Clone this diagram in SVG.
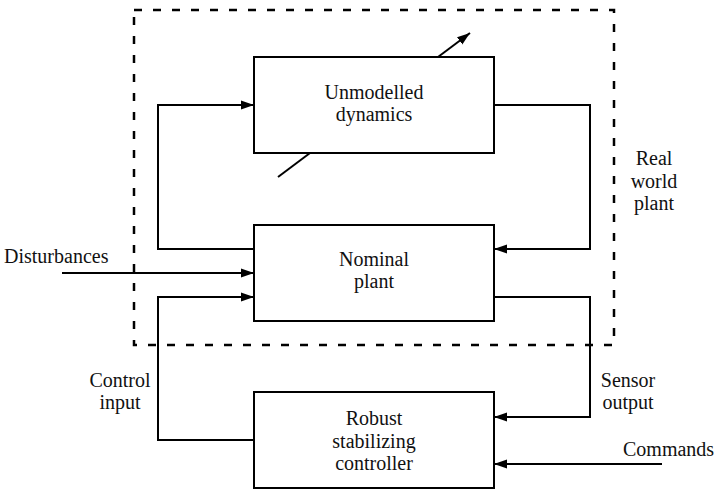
<svg xmlns="http://www.w3.org/2000/svg" width="728" height="490" viewBox="0 0 728 490">
  <style>
    .box { fill: #fff; stroke: #000; stroke-width: 2; }
    .wire { fill: none; stroke: #000; stroke-width: 2; }
    .frame { fill: none; stroke: #000; stroke-width: 2.5; stroke-dasharray: 8 11; }
    .t { font-family: 'Liberation Serif', 'Times New Roman', serif; font-size: 20px; fill: #111; }
    .c { text-anchor: middle; }
  </style>
  <defs>
    <marker id="arrow" markerUnits="userSpaceOnUse" markerWidth="14" markerHeight="10" refX="13" refY="5" orient="auto">
      <path d="M0,0.5 L13,5 L0,9.5 z" fill="#000"/>
    </marker>
  </defs>

  <!-- boundary of the real world plant -->
  <g id="real-world-plant">
    <rect class="frame" x="134" y="10" width="480" height="335"/>
    <text class="t c" x="654" y="165">Real</text>
    <text class="t c" x="654" y="187.5">world</text>
    <text class="t c" x="654" y="210">plant</text>
  </g>

  <g id="connectors">
    <!-- uncertainty arrow drawn across the unmodelled block -->
    <line class="wire" x1="278" y1="177" x2="470" y2="33" marker-end="url(#arrow)"/>
    <polyline class="wire" points="254,249 158,249 158,105 254,105" marker-end="url(#arrow)"/>
    <polyline class="wire" points="494,105 590,105 590,249 494,249" marker-end="url(#arrow)"/>
    <line class="wire" x1="62" y1="273" x2="254" y2="273" marker-end="url(#arrow)"/>
    <polyline class="wire" points="254,440 158,440 158,297 254,297" marker-end="url(#arrow)"/>
    <polyline class="wire" points="494,297 590,297 590,417 494,417" marker-end="url(#arrow)"/>
    <line class="wire" x1="662" y1="464" x2="494" y2="464" marker-end="url(#arrow)"/>
  </g>

  <g id="unmodelled-dynamics">
    <rect class="box" x="254" y="57" width="240" height="96"/>
    <text class="t c" x="374" y="98.5">Unmodelled</text>
    <text class="t c" x="374" y="121">dynamics</text>
  </g>

  <g id="nominal-plant">
    <rect class="box" x="254" y="225" width="240" height="96"/>
    <text class="t c" x="374" y="265.5">Nominal</text>
    <text class="t c" x="374" y="288">plant</text>
  </g>

  <g id="controller">
    <rect class="box" x="254" y="392" width="240" height="96"/>
    <text class="t c" x="374" y="425">Robust</text>
    <text class="t c" x="374" y="447.5">stabilizing</text>
    <text class="t c" x="374" y="470">controller</text>
  </g>

  <g id="labels">
    <text class="t" x="4" y="263">Disturbances</text>
    <text class="t c" x="120" y="386.5">Control</text>
    <text class="t c" x="120" y="409">input</text>
    <text class="t c" x="628" y="386.5">Sensor</text>
    <text class="t c" x="628" y="409">output</text>
    <text class="t" x="623" y="456">Commands</text>
  </g>
</svg>
